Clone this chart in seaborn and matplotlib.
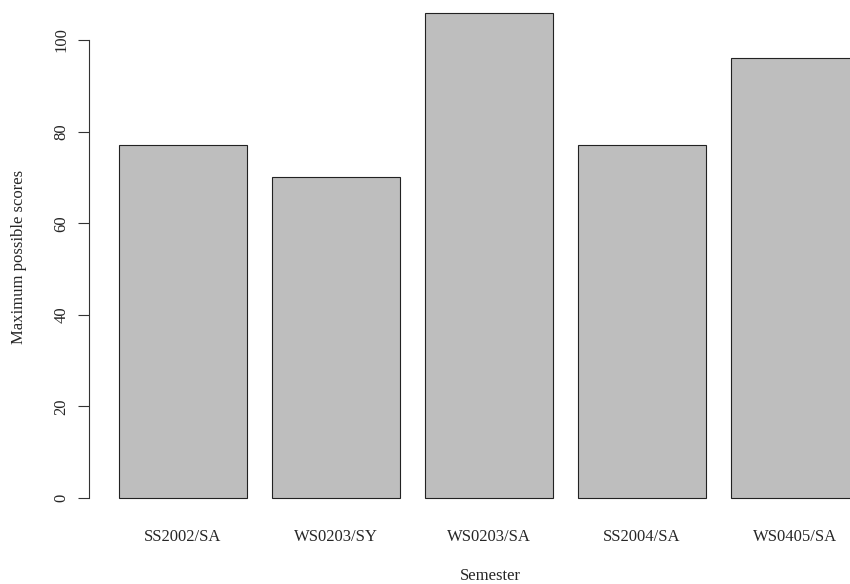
import matplotlib
matplotlib.use("Agg")
import matplotlib.pyplot as plt
import seaborn as sns
import pandas as pd

semesters = ["SS2002/SA", "WS0203/SY", "WS0203/SA", "SS2004/SA", "WS0405/SA"]
scores = [77, 70, 106, 77, 96]
yticks = [0, 20, 40, 60, 80, 100]

sns.set_style("white")
plt.rcParams["font.family"] = ["Liberation Serif", "DejaVu Serif"]

W, H = 850, 584
fig = plt.figure(figsize=(W / 100, H / 100), dpi=100)
ax_left, ax_right, ax_top, ax_bottom = 89, 850, 0, 518
ax = fig.add_axes([ax_left / W, (H - ax_bottom) / H, (ax_right - ax_left) / W, (ax_bottom - ax_top) / H])

df = pd.DataFrame({"Semester": semesters, "Score": scores})
sns.barplot(data=df, x="Semester", y="Score", color="#BEBEBE", saturation=1,
            edgecolor="#222222", linewidth=0.8, width=1 / 1.2, ax=ax)

px_per_unit_x = 153.0
x0_px = 183.0
ax.set_xlim((ax_left - x0_px) / px_per_unit_x, (ax_right - x0_px) / px_per_unit_x)
ppu_y = (498 - 40) / 100.0
ax.set_ylim((498 - ax_bottom) / ppu_y, (498 - ax_top) / ppu_y)

for s in ["top", "right", "bottom"]:
    ax.spines[s].set_visible(False)
ax.spines["left"].set_bounds(0, 100)
ax.spines["left"].set_color("#333333")
ax.spines["left"].set_linewidth(0.8)

ax.set_yticks(yticks)
ax.set_yticklabels([str(v) for v in yticks], rotation=90, va="center", fontsize=12)
ax.tick_params(axis="y", left=True, length=8, width=0.8, color="#333333", pad=6)
ax.tick_params(axis="x", bottom=False, length=0, pad=8, labelsize=12)
ax.set_xlabel("")
ax.set_ylabel("")

fig.text(490 / W, 1 - 576 / H, "Semester", ha="center", va="center", fontsize=12)
fig.text(19 / W, 1 - 257 / H, "Maximum possible scores", ha="center", va="center",
         rotation=90, fontsize=12)

fig.savefig("out.png", dpi=100)
